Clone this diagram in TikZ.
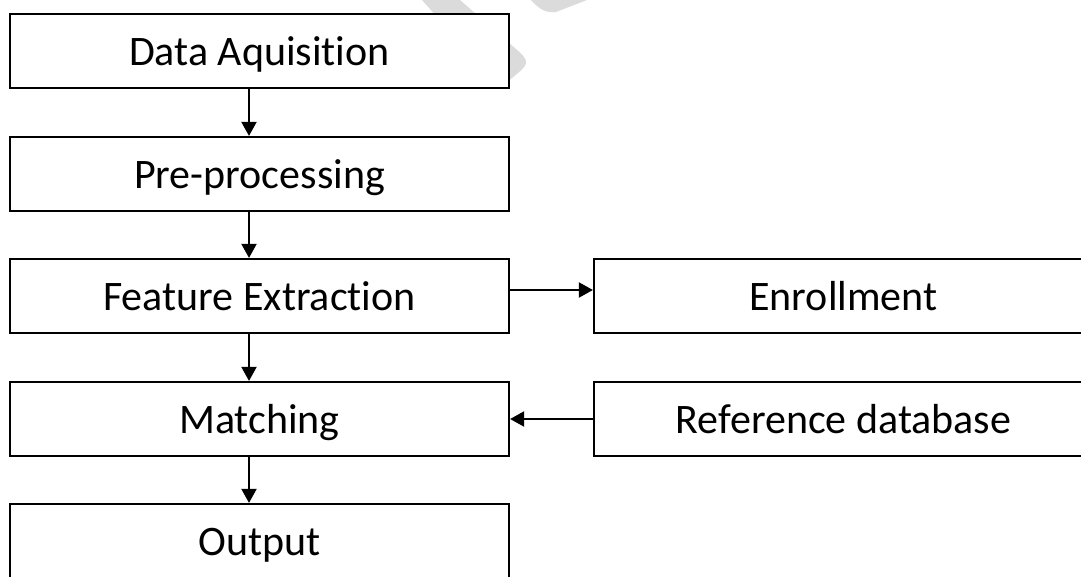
\documentclass[tikz,border=0pt]{standalone}
\usepackage{fontspec}
\setmainfont{Carlito}[Ligatures=NoCommon]
\usetikzlibrary{arrows.meta,calc}
\begin{document}
\begin{tikzpicture}[x=1pt,y=-1pt,
  stage/.style={draw=black, line width=2.2pt, fill=white,
    minimum width=499pt, minimum height=74pt, inner sep=0pt,
    text height=36pt, text depth=8pt, font=\fontsize{42}{50}\selectfont},
  flow/.style={line width=2pt, -{Triangle[length=14pt,width=15pt]}},
  wmark/.style={fill=black!14, draw=none}]
\useasboundingbox (0,0) rectangle (1081,576);
\clip (0,0) rectangle (1081,576);

% faint background mark
\fill[wmark] (422,0) -- (460,0) -- (516,49)
  .. controls (529,60) and (529,64) .. (518,73) -- (500,88) -- cycle;
\fill[wmark] (531,0) .. controls (540,10) and (546,13) .. (556,12) -- (587,0) -- cycle;

% processing chain
\node[stage] (acq)   at (259.5,51)  {Data Aquisition};
\node[stage] (pre)   at (259.5,174) {Pre-processing};
\node[stage] (feat)  at (259.5,296) {Feature Extraction};
\node[stage] (match) at (259.5,419) {Matching};
\node[stage] (out)   at (259.5,541) {Output};

% side blocks
\node[stage] (enr) at (843.5,296) {Enrollment};
\node[stage] (ref) at (843.5,419) {Reference database};

% connector guides
\coordinate (ax) at (249,0);
\coordinate (ey) at (0,290);

\draw[flow] (acq.south -| ax)   -- (pre.north -| ax);
\draw[flow] (pre.south -| ax)   -- (feat.north -| ax);
\draw[flow] (feat.south -| ax)  -- (match.north -| ax);
\draw[flow] (match.south -| ax) -- (out.north -| ax);
\draw[flow] (feat.east |- ey)   -- (enr.west |- ey);
\draw[flow] (ref.west) -- (match.east);
\end{tikzpicture}
\end{document}
